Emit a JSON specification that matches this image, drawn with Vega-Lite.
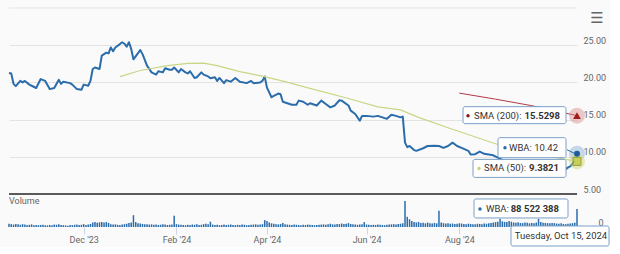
{
  "$schema": "https://vega.github.io/schema/vega-lite/v6.json",
  "background": "#fafafa",
  "padding": {"left": 8, "top": 7, "right": 0, "bottom": 0},
  "autosize": {"type": "pad"},
  "bounds": "flush",
  "spacing": 0,
  "config": {"font": "Roboto", "view": {"stroke": null}},
  "datasets": {
    "price": [
      {"i":0,"close":21.26},{"i":1,"close":21.2},{"i":2,"close":19.8},{"i":3,"close":19.5},{"i":5,"close":20.2},{"i":6,"close":20.0},{"i":7,"close":20.2},{"i":9,"close":19.7},{"i":10,"close":19.55},{"i":12,"close":19.25},{"i":14,"close":20.45},{"i":16,"close":20.2},{"i":18,"close":19.1},{"i":20,"close":19.25},{"i":22,"close":20.35},{"i":23,"close":19.8},{"i":24,"close":20.1},{"i":27,"close":19.9},{"i":28,"close":19.7},{"i":30,"close":19.1},{"i":32,"close":19.0},{"i":33,"close":19.7},{"i":35,"close":19.55},{"i":36,"close":20.2},{"i":37,"close":21.8},{"i":38,"close":22.0},{"i":40,"close":21.8},{"i":41,"close":23.6},{"i":43,"close":24.0},{"i":44,"close":23.9},{"i":45,"close":24.7},{"i":46,"close":24.2},{"i":47,"close":24.7},{"i":49,"close":25.15},{"i":50,"close":25.4},{"i":51,"close":25.2},{"i":52,"close":24.8},{"i":53,"close":25.4},{"i":54,"close":24.5},{"i":55,"close":23.1},{"i":58,"close":24.35},{"i":59,"close":23.8},{"i":61,"close":22.25},{"i":63,"close":21.35},{"i":65,"close":21.05},{"i":66,"close":21.5},{"i":68,"close":21.35},{"i":69,"close":21.9},{"i":71,"close":21.7},{"i":72,"close":21.7},{"i":73,"close":22.0},{"i":75,"close":21.35},{"i":76,"close":21.8},{"i":78,"close":21.35},{"i":79,"close":21.2},{"i":80,"close":21.5},{"i":82,"close":20.6},{"i":83,"close":20.7},{"i":85,"close":21.35},{"i":86,"close":21.05},{"i":88,"close":20.8},{"i":89,"close":20.55},{"i":91,"close":20.7},{"i":92,"close":20.2},{"i":93,"close":20.6},{"i":95,"close":19.9},{"i":96,"close":20.3},{"i":98,"close":20.1},{"i":100,"close":20.6},{"i":102,"close":20.1},{"i":105,"close":19.9},{"i":107,"close":20.2},{"i":108,"close":19.9},{"i":111,"close":20.0},{"i":112,"close":20.2},{"i":113,"close":20.8},{"i":114,"close":19.3},{"i":116,"close":18.0},{"i":117,"close":18.2},{"i":119,"close":18.5},{"i":120,"close":18.4},{"i":121,"close":17.4},{"i":123,"close":17.2},{"i":125,"close":17.0},{"i":127,"close":17.0},{"i":128,"close":17.55},{"i":130,"close":17.4},{"i":132,"close":17.0},{"i":133,"close":17.2},{"i":136,"close":16.9},{"i":138,"close":17.55},{"i":140,"close":17.1},{"i":142,"close":16.65},{"i":144,"close":16.9},{"i":146,"close":17.6},{"i":147,"close":17.55},{"i":150,"close":16.9},{"i":151,"close":16.2},{"i":153,"close":15.75},{"i":155,"close":14.85},{"i":156,"close":15.5},{"i":158,"close":15.5},{"i":161,"close":15.4},{"i":163,"close":15.5},{"i":165,"close":15.3},{"i":167,"close":15.1},{"i":169,"close":15.65},{"i":171,"close":15.5},{"i":173,"close":15.3},{"i":174,"close":15.4},{"i":175,"close":11.9},{"i":176,"close":11.3},{"i":177,"close":11.45},{"i":179,"close":10.9},{"i":180,"close":10.8},{"i":183,"close":11.15},{"i":185,"close":11.45},{"i":188,"close":11.5},{"i":190,"close":11.45},{"i":192,"close":11.2},{"i":194,"close":11.45},{"i":196,"close":11.9},{"i":198,"close":11.45},{"i":200,"close":11.2},{"i":203,"close":10.8},{"i":204,"close":10.3},{"i":206,"close":10.35},{"i":208,"close":10.7},{"i":210,"close":10.4},{"i":212,"close":10.3},{"i":214,"close":10.2},{"i":216,"close":9.9},{"i":218,"close":9.6},{"i":220,"close":9.4},{"i":222,"close":9.2},{"i":224,"close":9.0},{"i":226,"close":8.9},{"i":228,"close":8.7},{"i":230,"close":8.5},{"i":232,"close":8.6},{"i":234,"close":8.8},{"i":236,"close":8.7},{"i":238,"close":8.9},{"i":240,"close":8.8},{"i":242,"close":8.7},{"i":244,"close":8.5},{"i":246,"close":8.4},{"i":248,"close":8.7},{"i":249,"close":8.9},{"i":250,"close":9.0},{"i":251,"close":10.42}
    ],
    "sma50": [
      {"i":49,"sma":20.77},{"i":58,"sma":21.6},{"i":70,"sma":22.25},{"i":79,"sma":22.55},{"i":86,"sma":22.6},{"i":92,"sma":22.25},{"i":102,"sma":21.45},{"i":113,"sma":20.77},{"i":122,"sma":20.1},{"i":133,"sma":19.2},{"i":148,"sma":18.0},{"i":163,"sma":16.7},{"i":173,"sma":16.3},{"i":181,"sma":15.3},{"i":194,"sma":13.9},{"i":216,"sma":11.65},{"i":230,"sma":10.6},{"i":240,"sma":10.0},{"i":251,"sma":9.3821}
    ],
    "sma200": [
      {"i":199,"sma":18.56},{"i":215,"sma":17.75},{"i":231,"sma":16.87},{"i":251,"sma":15.5298}
    ],
    "ends": [
      {"i":251,"close":10.42,"sma50":9.3821,"sma200":15.5298,"vol":88.522388,"volText":"88 522 388","dateText":"Tuesday, Oct 15, 2024"}
    ],
    "vol": [
      {"i":0,"vol":16},{"i":1,"vol":14},{"i":2,"vol":12},{"i":3,"vol":15},{"i":4,"vol":13},{"i":5,"vol":11},{"i":6,"vol":14},{"i":7,"vol":12},{"i":8,"vol":10},{"i":9,"vol":11},{"i":10,"vol":13},{"i":11,"vol":9},{"i":12,"vol":10},{"i":13,"vol":9},{"i":14,"vol":10},{"i":15,"vol":11},{"i":16,"vol":9},{"i":17,"vol":8},{"i":18,"vol":10},{"i":19,"vol":9},{"i":20,"vol":12},{"i":21,"vol":11},{"i":22,"vol":13},{"i":23,"vol":10},{"i":24,"vol":9},{"i":25,"vol":8},{"i":26,"vol":6},{"i":27,"vol":10},{"i":28,"vol":9},{"i":29,"vol":11},{"i":30,"vol":12},{"i":31,"vol":10},{"i":32,"vol":11},
      {"i":33,"vol":14},{"i":34,"vol":10},{"i":35,"vol":12},{"i":36,"vol":15},{"i":37,"vol":22},{"i":38,"vol":24},{"i":39,"vol":21},{"i":40,"vol":23},{"i":41,"vol":25},{"i":42,"vol":22},{"i":43,"vol":24},{"i":44,"vol":20},{"i":45,"vol":14},{"i":46,"vol":12},{"i":47,"vol":13},{"i":48,"vol":11},{"i":49,"vol":10},{"i":50,"vol":12},{"i":51,"vol":14},{"i":52,"vol":16},{"i":53,"vol":20},{"i":54,"vol":22},{"i":55,"vol":58},{"i":56,"vol":24},{"i":57,"vol":18},{"i":58,"vol":17},{"i":59,"vol":15},{"i":60,"vol":13},{"i":61,"vol":14},{"i":62,"vol":12},{"i":63,"vol":13},{"i":64,"vol":11},{"i":65,"vol":12},{"i":66,"vol":10},{"i":67,"vol":11},{"i":68,"vol":13},{"i":69,"vol":12},{"i":70,"vol":10},{"i":71,"vol":11},{"i":72,"vol":12},{"i":73,"vol":55},{"i":74,"vol":14},{"i":75,"vol":12},{"i":76,"vol":11},{"i":77,"vol":10},{"i":78,"vol":9},{"i":79,"vol":11},{"i":80,"vol":10},{"i":81,"vol":12},{"i":82,"vol":11},{"i":83,"vol":13},{"i":84,"vol":10},{"i":85,"vol":11},{"i":86,"vol":14},{"i":87,"vol":16},{"i":88,"vol":13},{"i":89,"vol":26},{"i":90,"vol":12},{"i":91,"vol":10},{"i":92,"vol":11},{"i":93,"vol":9},{"i":94,"vol":10},{"i":95,"vol":12},{"i":96,"vol":10},{"i":97,"vol":11},{"i":98,"vol":12},{"i":99,"vol":10},{"i":100,"vol":9},{"i":101,"vol":11},{"i":102,"vol":10},{"i":103,"vol":12},{"i":104,"vol":11},{"i":105,"vol":9},{"i":106,"vol":10},{"i":107,"vol":11},{"i":108,"vol":12},{"i":109,"vol":13},{"i":110,"vol":11},{"i":111,"vol":12},{"i":112,"vol":14},{"i":113,"vol":34},{"i":114,"vol":30},{"i":115,"vol":22},{"i":116,"vol":18},{"i":117,"vol":16},{"i":118,"vol":14},{"i":119,"vol":13},{"i":120,"vol":15},{"i":121,"vol":20},{"i":122,"vol":14},{"i":123,"vol":12},{"i":124,"vol":11},{"i":125,"vol":10},{"i":126,"vol":12},{"i":127,"vol":11},{"i":128,"vol":10},{"i":129,"vol":9},{"i":130,"vol":11},{"i":131,"vol":10},{"i":132,"vol":12},{"i":133,"vol":11},{"i":134,"vol":10},{"i":135,"vol":9},{"i":136,"vol":10},{"i":137,"vol":11},{"i":138,"vol":12},{"i":139,"vol":13},{"i":140,"vol":11},{"i":141,"vol":14},{"i":142,"vol":16},{"i":143,"vol":13},{"i":144,"vol":12},{"i":145,"vol":15},{"i":146,"vol":14},{"i":147,"vol":17},{"i":148,"vol":15},{"i":149,"vol":16},{"i":150,"vol":19},{"i":151,"vol":15},{"i":152,"vol":13},{"i":153,"vol":12},{"i":154,"vol":11},{"i":155,"vol":12},{"i":156,"vol":14},{"i":157,"vol":24},{"i":158,"vol":12},{"i":159,"vol":11},{"i":160,"vol":10},{"i":161,"vol":11},{"i":162,"vol":10},{"i":163,"vol":12},{"i":164,"vol":11},{"i":165,"vol":10},{"i":166,"vol":9},{"i":167,"vol":11},{"i":168,"vol":12},{"i":169,"vol":13},{"i":170,"vol":14},{"i":171,"vol":12},{"i":172,"vol":15},{"i":173,"vol":16},{"i":174,"vol":18},{"i":175,"vol":128},{"i":176,"vol":50},{"i":177,"vol":38},{"i":178,"vol":30},{"i":179,"vol":24},{"i":180,"vol":22},{"i":181,"vol":25},{"i":182,"vol":20},{"i":183,"vol":21},{"i":184,"vol":18},{"i":185,"vol":22},{"i":186,"vol":19},{"i":187,"vol":17},{"i":188,"vol":20},{"i":189,"vol":18},{"i":190,"vol":80},{"i":191,"vol":22},{"i":192,"vol":19},{"i":193,"vol":17},{"i":194,"vol":18},{"i":195,"vol":16},{"i":196,"vol":17},{"i":197,"vol":15},{"i":198,"vol":16},{"i":199,"vol":18},{"i":200,"vol":17},{"i":201,"vol":15},{"i":202,"vol":14},{"i":203,"vol":16},{"i":204,"vol":15},{"i":205,"vol":13},{"i":206,"vol":14},{"i":207,"vol":16},{"i":208,"vol":15},{"i":209,"vol":14},{"i":210,"vol":17},{"i":211,"vol":16},{"i":212,"vol":18},{"i":213,"vol":20},{"i":214,"vol":22},{"i":215,"vol":24},{"i":216,"vol":26},{"i":217,"vol":40},{"i":218,"vol":28},{"i":219,"vol":25},{"i":220,"vol":24},{"i":221,"vol":30},{"i":222,"vol":26},{"i":223,"vol":22},{"i":224,"vol":21},{"i":225,"vol":23},{"i":226,"vol":20},{"i":227,"vol":19},{"i":228,"vol":22},{"i":229,"vol":21},{"i":230,"vol":18},{"i":231,"vol":20},{"i":232,"vol":19},{"i":233,"vol":22},{"i":234,"vol":40},{"i":235,"vol":24},{"i":236,"vol":21},{"i":237,"vol":20},{"i":238,"vol":19},{"i":239,"vol":18},{"i":240,"vol":20},{"i":241,"vol":19},{"i":242,"vol":17},{"i":243,"vol":16},{"i":244,"vol":18},{"i":245,"vol":15},{"i":246,"vol":14},{"i":247,"vol":16},{"i":248,"vol":17},{"i":249,"vol":19},{"i":250,"vol":21},{"i":251,"vol":88.522388}
    ]
  },
  "vconcat": [
    {
      "width": 568,
      "height": 186,
      "layer": [
        {
          "data": {"values": [{}]},
          "mark": {"type": "rule", "color": "#e3e3e3", "strokeWidth": 1},
          "encoding": {"y": {"datum": 30}}
        },
        {
          "data": {"name": "price"},
          "mark": {"type": "line", "color": "#2b6cab", "strokeWidth": 2, "strokeJoin": "round"},
          "encoding": {
            "x": {"field": "i", "type": "quantitative", "scale": {"domain": [0, 251], "nice": false, "zero": false, "padding": 0}, "axis": null},
            "y": {"field": "close", "type": "quantitative", "scale": {"domain": [5, 30], "nice": false, "zero": false, "padding": 0},
              "axis": {"orient": "right", "values": [5, 10, 15, 20, 25], "tickCount": 12, "format": ".2f", "grid": true, "gridColor": "#e3e3e3", "domain": false, "ticks": false, "labelPadding": 6, "labelOffset": -5, "labelAlign": "left", "labelOverlap": false, "labelFontSize": 9, "labelColor": "#666666", "title": null}}
          }
        },
        {
          "data": {"name": "sma50"},
          "mark": {"type": "line", "color": "#cbd585", "strokeWidth": 1.2},
          "encoding": {"x": {"field": "i", "type": "quantitative"}, "y": {"field": "sma", "type": "quantitative"}}
        },
        {
          "data": {"name": "sma200"},
          "mark": {"type": "line", "color": "#b23a48", "strokeWidth": 1},
          "encoding": {"x": {"field": "i", "type": "quantitative"}, "y": {"field": "sma", "type": "quantitative"}}
        },
        {
          "data": {"values": [{}]},
          "mark": {"type": "rule", "color": "#5a5a5a", "strokeWidth": 2},
          "encoding": {"y": {"datum": 5}}
        },
        {
          "data": {"values": [{}]},
          "mark": {"type": "text", "align": "center", "baseline": "middle", "dx": 20, "dy": 10, "font": "DejaVu Sans", "fontSize": 15, "color": "#666666"},
          "encoding": {"x": {"datum": 251}, "y": {"datum": 30}, "text": {"value": "☰"}}
        },
        {
          "data": {"name": "ends"},
          "mark": {"type": "point", "shape": "circle", "filled": true, "size": 256, "color": "#d98c8c", "opacity": 0.45},
          "encoding": {"x": {"field": "i", "type": "quantitative"}, "y": {"field": "sma200", "type": "quantitative"}}
        },
        {
          "data": {"name": "ends"},
          "mark": {"type": "point", "shape": "triangle-up", "filled": true, "size": 60, "color": "#a01c1c", "opacity": 1},
          "encoding": {"x": {"field": "i", "type": "quantitative"}, "y": {"field": "sma200", "type": "quantitative"}}
        },
        {
          "data": {"name": "ends"},
          "mark": {"type": "point", "shape": "circle", "filled": true, "size": 256, "color": "#8fb4d8", "opacity": 0.5},
          "encoding": {"x": {"field": "i", "type": "quantitative"}, "y": {"field": "close", "type": "quantitative"}}
        },
        {
          "data": {"name": "ends"},
          "mark": {"type": "point", "shape": "circle", "filled": true, "size": 256, "color": "#d6dd8f", "opacity": 0.6},
          "encoding": {"x": {"field": "i", "type": "quantitative"}, "y": {"field": "sma50", "type": "quantitative"}}
        },
        {
          "data": {"name": "ends"},
          "mark": {"type": "point", "shape": "circle", "filled": true, "size": 36, "color": "#1f5b99", "opacity": 1},
          "encoding": {"x": {"field": "i", "type": "quantitative"}, "y": {"field": "close", "type": "quantitative"}}
        },
        {
          "data": {"name": "ends"},
          "mark": {"type": "point", "shape": "square", "filled": true, "size": 64, "color": "#c6cf5a", "stroke": "#9aa035", "strokeWidth": 1, "opacity": 1},
          "encoding": {"x": {"field": "i", "type": "quantitative"}, "y": {"field": "sma50", "type": "quantitative"}}
        },
        {
          "data": {"name": "ends"},
          "mark": {"type": "rule", "color": "#2b6cab", "strokeWidth": 1, "xOffset": -10, "yOffset": -4, "x2Offset": -2, "y2Offset": 0},
          "encoding": {"x": {"field": "i", "type": "quantitative"}, "x2": {"field": "i"}, "y": {"field": "close", "type": "quantitative"}, "y2": {"field": "close"}}
        },
        {
          "data": {"name": "ends"},
          "mark": {"type": "rule", "color": "#4a6f96", "strokeWidth": 1, "xOffset": -11, "yOffset": 9, "x2Offset": -3, "y2Offset": 0},
          "encoding": {"x": {"field": "i", "type": "quantitative"}, "x2": {"field": "i"}, "y": {"field": "sma50", "type": "quantitative"}, "y2": {"field": "sma50"}}
        },
        {
          "data": {"name": "ends"},
          "mark": {"type": "rect", "fill": "#ffffff", "stroke": "#7aa0c8", "strokeWidth": 1, "cornerRadius": 2, "xOffset": -114, "x2Offset": -11, "yOffset": -9, "y2Offset": 8},
          "encoding": {"x": {"field": "i", "type": "quantitative"}, "x2": {"field": "i"}, "y": {"field": "sma200", "type": "quantitative"}, "y2": {"field": "sma200"}}
        },
        {
          "data": {"name": "ends"},
          "mark": {"type": "point", "shape": "circle", "filled": true, "size": 12, "color": "#8b1a1a", "opacity": 1, "xOffset": -109},
          "encoding": {"x": {"field": "i", "type": "quantitative"}, "y": {"field": "sma200", "type": "quantitative"}}
        },
        {
          "data": {"name": "ends"},
          "mark": {"type": "text", "align": "left", "baseline": "middle", "dx": -103, "fontSize": 9.5, "color": "#333333"},
          "encoding": {"x": {"field": "i", "type": "quantitative"}, "y": {"field": "sma200", "type": "quantitative"}, "text": {"value": "SMA (200): "}}
        },
        {
          "data": {"name": "ends"},
          "mark": {"type": "text", "align": "right", "baseline": "middle", "dx": -17, "fontSize": 9.5, "fontWeight": "bold", "color": "#333333"},
          "encoding": {"x": {"field": "i", "type": "quantitative"}, "y": {"field": "sma200", "type": "quantitative"}, "text": {"field": "sma200", "format": ".4f"}}
        },
        {
          "data": {"name": "ends"},
          "mark": {"type": "rect", "fill": "#ffffff", "stroke": "#7aa0c8", "strokeWidth": 1, "cornerRadius": 2, "xOffset": -79, "x2Offset": -11, "yOffset": -16, "y2Offset": 4},
          "encoding": {"x": {"field": "i", "type": "quantitative"}, "x2": {"field": "i"}, "y": {"field": "close", "type": "quantitative"}, "y2": {"field": "close"}}
        },
        {
          "data": {"name": "ends"},
          "mark": {"type": "point", "shape": "circle", "filled": true, "size": 12, "color": "#2b6cab", "opacity": 1, "xOffset": -72, "yOffset": -6},
          "encoding": {"x": {"field": "i", "type": "quantitative"}, "y": {"field": "close", "type": "quantitative"}}
        },
        {
          "data": {"name": "ends"},
          "mark": {"type": "text", "align": "left", "baseline": "middle", "dx": -68, "dy": -6, "fontSize": 9.5, "color": "#333333"},
          "encoding": {"x": {"field": "i", "type": "quantitative"}, "y": {"field": "close", "type": "quantitative"}, "text": {"value": "WBA: "}}
        },
        {
          "data": {"name": "ends"},
          "mark": {"type": "text", "align": "right", "baseline": "middle", "dx": -19, "dy": -6, "fontSize": 9.5, "color": "#333333"},
          "encoding": {"x": {"field": "i", "type": "quantitative"}, "y": {"field": "close", "type": "quantitative"}, "text": {"field": "close", "format": ".2f"}}
        },
        {
          "data": {"name": "ends"},
          "mark": {"type": "rect", "fill": "#ffffff", "stroke": "#7aa0c8", "strokeWidth": 1, "cornerRadius": 2, "xOffset": -104, "x2Offset": -11, "yOffset": -2, "y2Offset": 16},
          "encoding": {"x": {"field": "i", "type": "quantitative"}, "x2": {"field": "i"}, "y": {"field": "sma50", "type": "quantitative"}, "y2": {"field": "sma50"}}
        },
        {
          "data": {"name": "ends"},
          "mark": {"type": "point", "shape": "circle", "filled": true, "size": 12, "color": "#c8d27c", "opacity": 1, "xOffset": -98, "yOffset": 7},
          "encoding": {"x": {"field": "i", "type": "quantitative"}, "y": {"field": "sma50", "type": "quantitative"}}
        },
        {
          "data": {"name": "ends"},
          "mark": {"type": "text", "align": "left", "baseline": "middle", "dx": -93, "dy": 7, "fontSize": 9.5, "color": "#333333"},
          "encoding": {"x": {"field": "i", "type": "quantitative"}, "y": {"field": "sma50", "type": "quantitative"}, "text": {"value": "SMA (50): "}}
        },
        {
          "data": {"name": "ends"},
          "mark": {"type": "text", "align": "right", "baseline": "middle", "dx": -18, "dy": 7, "fontSize": 9.5, "fontWeight": "bold", "color": "#333333"},
          "encoding": {"x": {"field": "i", "type": "quantitative"}, "y": {"field": "sma50", "type": "quantitative"}, "text": {"field": "sma50", "format": ".4f"}}
        }
      ]
    },
    {
      "width": 568,
      "height": 33,
      "layer": [
        {
          "data": {"name": "vol"},
          "mark": {"type": "bar", "color": "#2b6cab", "width": 1.5},
          "encoding": {
            "x": {"field": "i", "type": "quantitative", "scale": {"domain": [0, 251], "nice": false, "zero": false, "padding": 0},
              "axis": {"values": [33, 74, 114, 158, 199], "tickCount": 20, "labelExpr": "datum.value == 33 ? \"Dec '23\" : datum.value == 74 ? \"Feb '24\" : datum.value == 114 ? \"Apr '24\" : datum.value == 158 ? \"Jun '24\" : \"Aug '24\"", "grid": false, "domain": false, "ticks": true, "tickSize": 7, "tickColor": "#ccd6eb", "labelPadding": 1, "labelFontSize": 9, "labelColor": "#666666", "labelOverlap": false, "labelFlush": false, "title": null}},
            "y": {"field": "vol", "type": "quantitative", "scale": {"domain": [0, 162], "nice": false, "padding": 0},
              "axis": {"orient": "right", "values": [0], "labelPadding": 21, "labelOffset": -5, "labelAlign": "left", "domain": false, "ticks": false, "grid": false, "title": null, "labelFontSize": 9, "labelColor": "#666666"}}
          }
        },
        {
          "data": {"values": [{}]},
          "mark": {"type": "text", "align": "left", "baseline": "middle", "dy": 7, "fontSize": 9, "color": "#666666"},
          "encoding": {"x": {"datum": 0}, "y": {"datum": 162}, "text": {"value": "Volume"}}
        },
        {
          "data": {"name": "ends"},
          "mark": {"type": "rect", "fill": "#ffffff", "stroke": "#7aa0c8", "strokeWidth": 1, "cornerRadius": 2, "xOffset": -103, "x2Offset": -9, "yOffset": -10, "y2Offset": 9},
          "encoding": {"x": {"field": "i", "type": "quantitative"}, "x2": {"field": "i"}, "y": {"field": "vol", "type": "quantitative"}, "y2": {"field": "vol"}}
        },
        {
          "data": {"name": "ends"},
          "mark": {"type": "point", "shape": "circle", "filled": true, "size": 12, "color": "#2b6cab", "opacity": 1, "xOffset": -97},
          "encoding": {"x": {"field": "i", "type": "quantitative"}, "y": {"field": "vol", "type": "quantitative"}}
        },
        {
          "data": {"name": "ends"},
          "mark": {"type": "text", "align": "left", "baseline": "middle", "dx": -91, "fontSize": 9.5, "color": "#333333"},
          "encoding": {"x": {"field": "i", "type": "quantitative"}, "y": {"field": "vol", "type": "quantitative"}, "text": {"value": "WBA: "}}
        },
        {
          "data": {"name": "ends"},
          "mark": {"type": "text", "align": "right", "baseline": "middle", "dx": -18, "fontSize": 9.5, "fontWeight": "bold", "color": "#333333"},
          "encoding": {"x": {"field": "i", "type": "quantitative"}, "y": {"field": "vol", "type": "quantitative"}, "text": {"field": "volText"}}
        },
        {
          "data": {"name": "ends"},
          "mark": {"type": "rect", "fill": "#ffffff", "stroke": "#7aa0c8", "strokeWidth": 1, "cornerRadius": 2, "xOffset": -66, "x2Offset": 32, "yOffset": -1, "y2Offset": 19},
          "encoding": {"x": {"field": "i", "type": "quantitative"}, "x2": {"field": "i"}, "y": {"datum": 0}, "y2": {"datum": 0}}
        },
        {
          "data": {"name": "ends"},
          "mark": {"type": "text", "align": "center", "baseline": "middle", "dx": -16, "dy": 9, "fontSize": 9.5, "color": "#333333"},
          "encoding": {"x": {"field": "i", "type": "quantitative"}, "y": {"datum": 0}, "text": {"field": "dateText"}}
        }
      ]
    }
  ]
}
